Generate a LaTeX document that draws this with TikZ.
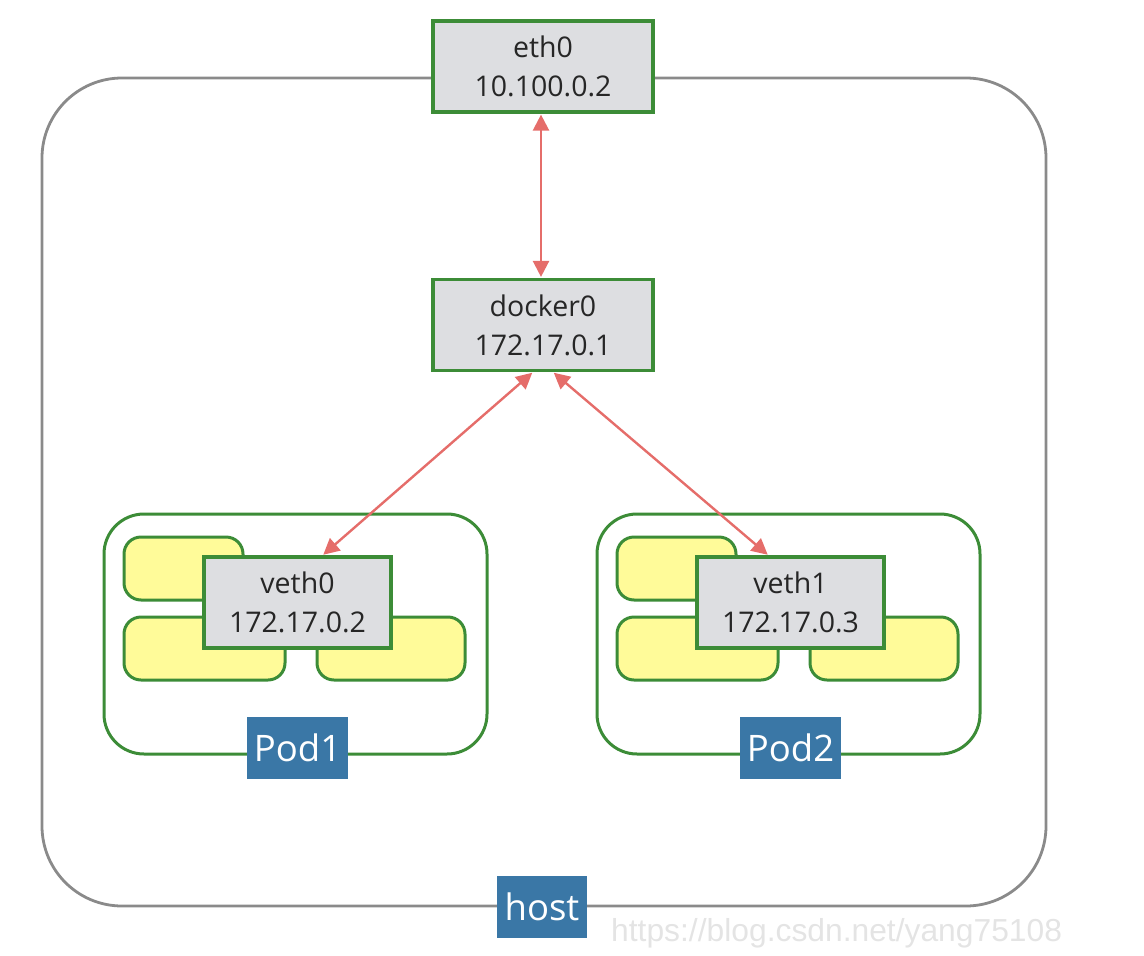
\documentclass[tikz,border=0pt]{standalone}
\usepackage{fontspec}
\setmainfont{Open Sans}
\newfontfamily\wmfont{Liberation Sans}
\usetikzlibrary{arrows.meta}
\definecolor{hostgray}{HTML}{8A8A8A}
\definecolor{boxgreen}{HTML}{3C8C37}
\definecolor{boxfill}{HTML}{DDDEE1}
\definecolor{blobfill}{HTML}{FFFB99}
\definecolor{tagblue}{HTML}{3A77A6}
\definecolor{arrowred}{HTML}{E56D6A}
\definecolor{wmgray}{HTML}{E4E4E4}
\tikzset{
  x=1pt, y=-1pt,
  hostbox/.style={draw=hostgray, line width=2.8pt, rounded corners=80pt, minimum width=1004pt, minimum height=828pt, inner sep=0pt},
  podbox/.style={draw=boxgreen, line width=3pt, rounded corners=40pt, minimum width=383pt, minimum height=240pt, inner sep=0pt},
  blob/.style={draw=boxgreen, fill=blobfill, line width=3pt, rounded corners=17pt, minimum height=63pt, inner sep=0pt},
  ifbox/.style={draw=boxgreen, fill=boxfill, line width=3.2pt, minimum height=91pt, inner sep=0pt, align=center, font=\fontsize{28.5}{39}\selectfont, text=black!85},
  tag/.style={fill=tagblue, text=white, inner sep=0pt, minimum height=62pt, font=\fontsize{36.5}{42}\selectfont},
  link/.style={draw=arrowred, line width=2.4pt, {Triangle[length=16pt,width=16pt]}-{Triangle[length=16pt,width=16pt]}, shorten <=1pt, shorten >=1pt}
}
\begin{document}
\begin{tikzpicture}
\useasboundingbox (0,0) rectangle (1144,956);
\node[hostbox] (host) at (544,492) {};
\node[ifbox, minimum width=220pt] (eth0) at (543,66.5) {eth0\\10.100.0.2};
\node[ifbox, minimum width=220pt] (docker0) at (543,325) {docker0\\172.17.0.1};

% Pod1
\node[podbox] (pod1) at (295.5,634) {};
\node[blob, minimum width=119pt] (p1a) at (183.5,568.5) {};
\node[blob, minimum width=161pt] (p1b) at (204.5,648.5) {};
\node[blob, minimum width=148pt] (p1c) at (391,648.5) {};
\node[ifbox, minimum width=187pt] (veth0) at (297.5,602.5) {veth0\\172.17.0.2};
\node[tag, minimum width=101pt] (pod1tag) at (297.5,748) {Pod1};

% Pod2
\node[podbox] (pod2) at (788.5,634) {};
\node[blob, minimum width=119pt] (p2a) at (676.5,568.5) {};
\node[blob, minimum width=161pt] (p2b) at (697.5,648.5) {};
\node[blob, minimum width=148pt] (p2c) at (884,648.5) {};
\node[ifbox, minimum width=187pt] (veth1) at (790.5,602.5) {veth1\\172.17.0.3};
\node[tag, minimum width=101pt] (pod2tag) at (790.5,748) {Pod2};

\node[tag, minimum width=90pt] (hosttag) at (542,907) {host};

\node[anchor=west, inner sep=0pt, text=wmgray, font=\wmfont\fontsize{31.8}{36}\selectfont] (wm) at (611,933) {https://blog.csdn.net/yang75108};

\draw[link] ([xshift=-2pt]eth0.south) -- ([xshift=-2pt]docker0.north);
\draw[link] ([xshift=-10pt]docker0.south) -- ([xshift=25pt]veth0.north);
\draw[link] ([xshift=10pt]docker0.south) -- ([xshift=-22pt]veth1.north);
\end{tikzpicture}
\end{document}
